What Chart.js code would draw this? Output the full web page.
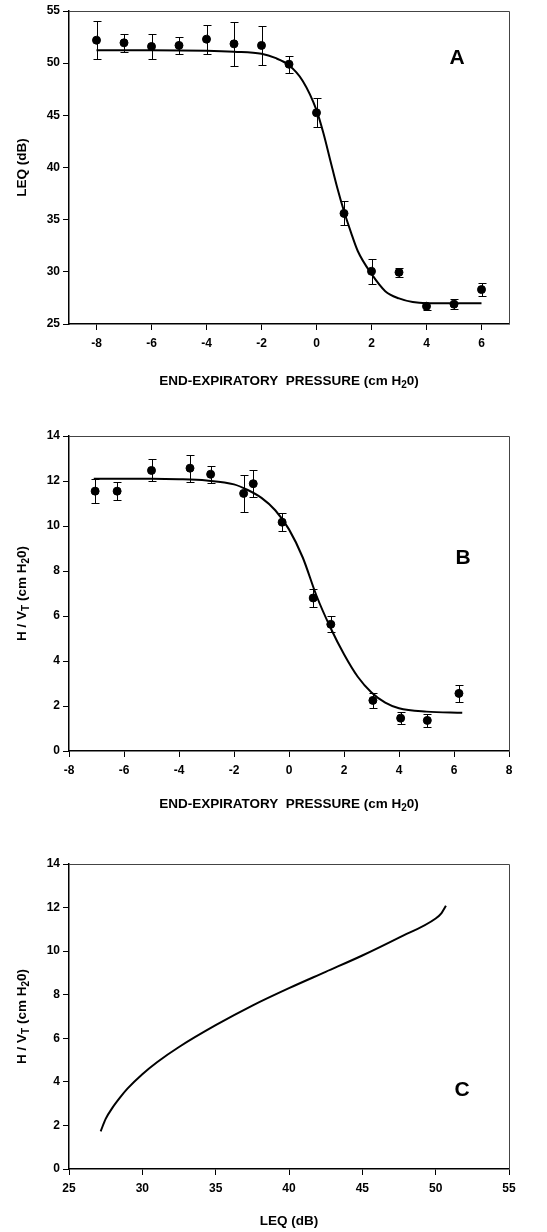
<!DOCTYPE html>
<html>
<head>
<meta charset="utf-8">
<script src="https://cdn.jsdelivr.net/npm/chart.js@4.4.1/dist/chart.umd.min.js"></script>
<style>
  html, body { margin: 0; padding: 0; background: #fff; }
  #wrap { position: relative; width: 547px; height: 1232px; }
  canvas { position: absolute; left: 0; }
</style>
</head>
<body>
<div id="wrap">
  <canvas id="chartA" width="547" height="400" style="top:0"></canvas>
  <canvas id="chartB" width="547" height="430" style="top:400px"></canvas>
  <canvas id="chartC" width="547" height="402" style="top:830px"></canvas>
</div>
<script>
// Panel A: LEQ vs end-expiratory pressure
const pressureA = [-8, -7, -6, -5, -4, -3, -2, -1, 0, 1, 2, 3, 4, 5, 6];
const leqA = [52.2, 51.95, 51.6, 51.7, 52.3, 51.85, 51.7, 49.9, 45.25, 35.6, 30.05, 29.95, 26.7, 26.9, 28.3];
const leqErrA = [1.8, 0.85, 1.2, 0.8, 1.4, 2.1, 1.85, 0.8, 1.4, 1.15, 1.2, 0.45, 0.35, 0.45, 0.65];
const fitXA = [-8, -6, -4, -3, -2, -1.5, -1, -0.5, 0, 0.25, 0.5, 0.75, 1, 1.25, 1.5, 2, 2.5, 3, 3.5, 4, 5, 6];
const fitYA = [51.25, 51.25, 51.2, 51.1, 50.9, 50.5, 49.8, 48.3, 45.5, 43.3, 40.7, 38.1, 35.8, 33.8, 32.0, 29.8, 28.15, 27.45, 27.1, 27.0, 27.0, 27.0];
const xTicksA = [-8, -6, -4, -2, 0, 2, 4, 6];
const yTicksA = [25, 30, 35, 40, 45, 50, 55];

// Panel B: H/VT vs end-expiratory pressure
const pressureB = [-7.05, -6.25, -5.0, -3.6, -2.85, -1.65, -1.3, -0.25, 0.88, 1.52, 3.05, 4.06, 5.03, 6.18];
const hvtB = [11.55, 11.55, 12.47, 12.57, 12.3, 11.45, 11.88, 10.17, 6.8, 5.63, 2.25, 1.46, 1.36, 2.56];
const hvtErrB = [0.53, 0.4, 0.49, 0.6, 0.38, 0.83, 0.6, 0.4, 0.42, 0.36, 0.33, 0.28, 0.3, 0.36];
const fitXB = [-7.1, -6, -5, -4, -3, -2, -1.5, -1, -0.5, 0, 0.5, 1, 1.5, 2, 2.5, 3, 3.5, 4, 5, 6.3];
const fitYB = [12.1, 12.1, 12.1, 12.08, 12.02, 11.85, 11.6, 11.25, 10.7, 9.85, 8.6, 6.9, 5.5, 4.3, 3.3, 2.6, 2.15, 1.9, 1.75, 1.7];
const xTicksB = [-8, -6, -4, -2, 0, 2, 4, 6, 8];
const yTicksB = [0, 2, 4, 6, 8, 10, 12, 14];

// Panel C: H/VT vs LEQ
const leqC = [27.16, 27.5, 28, 28.5, 29, 30, 31, 32.5, 35, 37.5, 40, 42.5, 45, 47.5, 50, 50.4, 50.7];
const hvtC = [1.73, 2.3, 2.85, 3.3, 3.7, 4.35, 4.9, 5.6, 6.6, 7.5, 8.3, 9.05, 9.8, 10.62, 11.5, 11.75, 12.08];
const xTicksC = [25, 30, 35, 40, 45, 50, 55];
const yTicksC = [0, 2, 4, 6, 8, 10, 12, 14];

const pressureTitle = [{t: 'END-EXPIRATORY  PRESSURE (cm H'}, {t: '2', sub: true}, {t: '0)'}];
const leqTitle = [{t: 'LEQ (dB)'}];
const hvtTitle = [{t: 'H / V'}, {t: 'T', sub: true}, {t: ' (cm H'}, {t: '2', sub: true}, {t: '0)'}];

const FONT = '"Liberation Sans", Arial, sans-serif';

function pts(xs, ys) {
    return xs.map((x, i) => ({x: x, y: ys[i]}));
}

function drawRich(ctx, parts, x, y, size) {
    const big = 'bold ' + size + 'px ' + FONT;
    const small = 'bold ' + Math.round(size * 0.72) + 'px ' + FONT;
    let w = 0;
    parts.forEach(p => { ctx.font = p.sub ? small : big; w += ctx.measureText(p.t).width; });
    let cx = x - w / 2;
    ctx.textAlign = 'left';
    ctx.textBaseline = 'middle';
    parts.forEach(p => {
        ctx.font = p.sub ? small : big;
        ctx.fillText(p.t, cx, y + (p.sub ? size * 0.32 : 0));
        cx += ctx.measureText(p.t).width;
    });
}

// error bars on the first dataset
const errorBars = {
    id: 'errorBars',
    afterDatasetsDraw(chart, args, opts) {
        if (!opts.err) return;
        const {ctx, scales: {x, y}} = chart;
        const data = chart.data.datasets[0].data;
        ctx.save();
        ctx.strokeStyle = '#000';
        ctx.lineWidth = 1;
        data.forEach((p, i) => {
            const px = Math.round(x.getPixelForValue(p.x)) + 0.5;
            const top = Math.round(y.getPixelForValue(p.y + opts.err[i])) + 0.5;
            const bot = Math.round(y.getPixelForValue(p.y - opts.err[i])) + 0.5;
            ctx.beginPath();
            ctx.moveTo(px, top); ctx.lineTo(px, bot);
            ctx.moveTo(px - 4, top); ctx.lineTo(px + 4, top);
            ctx.moveTo(px - 4, bot); ctx.lineTo(px + 4, bot);
            ctx.stroke();
        });
        ctx.restore();
    }
};

// top/right frame, axis titles and panel letter
const decorations = {
    id: 'decorations',
    afterDraw(chart, args, opts) {
        const {ctx, chartArea: a} = chart;
        ctx.save();
        ctx.strokeStyle = '#444';
        ctx.lineWidth = 1;
        ctx.beginPath();
        ctx.moveTo(a.left, a.top + 0.5);
        ctx.lineTo(a.right + 0.5, a.top + 0.5);
        ctx.lineTo(a.right + 0.5, a.bottom);
        ctx.stroke();
        ctx.fillStyle = '#000';
        drawRich(ctx, opts.xTitle, (a.left + a.right) / 2, opts.xTitleY, 13.5);
        ctx.translate(22, (a.top + a.bottom) / 2);
        ctx.rotate(-Math.PI / 2);
        drawRich(ctx, opts.yTitle, 0, 0, 13.5);
        ctx.restore();
        ctx.save();
        ctx.fillStyle = '#000';
        ctx.font = 'bold 21px ' + FONT;
        ctx.textAlign = 'center';
        ctx.textBaseline = 'middle';
        ctx.fillText(opts.letter, opts.letterX, opts.letterY);
        ctx.restore();
    }
};

function axis(min, max, tickList, size, horizontal) {
    return {
        type: 'linear',
        min: min,
        max: max,
        afterBuildTicks: s => { s.ticks = tickList.map(v => ({value: v})); },
        afterFit: s => { if (horizontal) s.height = size; else s.width = size; },
        ticks: {
            color: '#000',
            padding: horizontal ? 6 : 3,
            font: {family: FONT, size: 12, weight: 'bold'}
        },
        grid: {drawOnChartArea: false, tickLength: 6, color: '#000', lineWidth: 1},
        border: {color: '#000', width: 1.5}
    };
}

function makeChart(id, cfg) {
    const datasets = [];
    if (cfg.points) {
        datasets.push({
            data: cfg.points,
            pointRadius: 4,
            pointBackgroundColor: '#000',
            pointBorderColor: '#000',
            showLine: false
        });
    }
    datasets.push({
        data: cfg.fit,
        showLine: true,
        pointRadius: 0,
        borderColor: '#000',
        borderWidth: 2,
        cubicInterpolationMode: 'monotone'
    });
    return new Chart(document.getElementById(id).getContext('2d'), {
        type: 'scatter',
        data: {datasets: datasets},
        options: {
            responsive: false,
            animation: false,
            layout: {padding: {left: 0, right: 38, top: cfg.top, bottom: 0}},
            scales: {
                x: axis(cfg.xMin, cfg.xMax, cfg.xTicks, cfg.xHeight, true),
                y: axis(cfg.yMin, cfg.yMax, cfg.yTicks, 69, false)
            },
            plugins: {
                legend: {display: false},
                tooltip: {enabled: false},
                errorBars: {err: cfg.err},
                decorations: cfg.deco
            }
        },
        plugins: [errorBars, decorations]
    });
}

makeChart('chartA', {
    points: pts(pressureA, leqA), err: leqErrA, fit: pts(fitXA, fitYA),
    xMin: -9, xMax: 7, xTicks: xTicksA, yMin: 25, yMax: 55, yTicks: yTicksA,
    top: 11, xHeight: 76,
    deco: {xTitle: pressureTitle, xTitleY: 381, yTitle: leqTitle, letter: 'A', letterX: 457, letterY: 58}
});

makeChart('chartB', {
    points: pts(pressureB, hvtB), err: hvtErrB, fit: pts(fitXB, fitYB),
    xMin: -8, xMax: 8, xTicks: xTicksB, yMin: 0, yMax: 14, yTicks: yTicksB,
    top: 36, xHeight: 79,
    deco: {xTitle: pressureTitle, xTitleY: 404, yTitle: hvtTitle, letter: 'B', letterX: 463, letterY: 158}
});

makeChart('chartC', {
    fit: pts(leqC, hvtC),
    xMin: 25, xMax: 55, xTicks: xTicksC, yMin: 0, yMax: 14, yTicks: yTicksC,
    top: 34, xHeight: 63,
    deco: {xTitle: leqTitle, xTitleY: 391, yTitle: hvtTitle, letter: 'C', letterX: 462, letterY: 260}
});
</script>
</body>
</html>
